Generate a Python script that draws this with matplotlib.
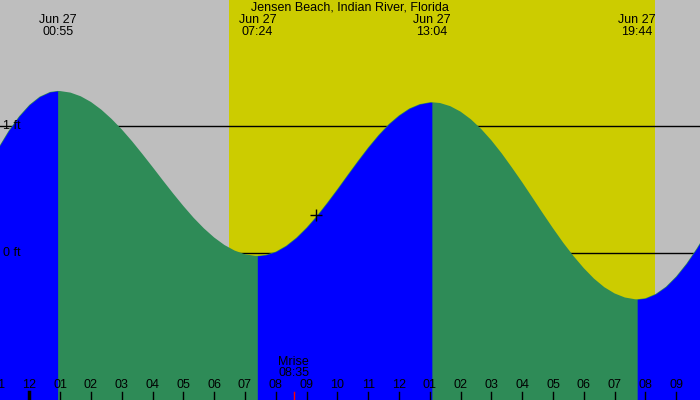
import matplotlib.pyplot as plt

plt.rcParams['font.family'] = ['Liberation Sans', 'DejaVu Sans']

STATION = "Jensen Beach, Indian River, Florida"
DATE = "Jun 27"

# tide height (ft) every 20 minutes, minutes from midnight Jun 27
minutes = [-60, -40, -20, 0, 20, 40, 60, 80, 100, 120, 140, 160, 180, 200,
           220, 240, 260, 280, 300, 320, 340, 360, 380, 400, 420, 440, 460,
           480, 500, 520, 540, 560, 580, 600, 620, 640, 660, 680, 700, 720,
           740, 760, 780, 800, 820, 840, 860, 880, 900, 920, 940, 960, 980,
           1000, 1020, 1040, 1060, 1080, 1100, 1120, 1140, 1160, 1180, 1200,
           1220, 1240, 1260, 1280, 1300, 1320]
heights = [0.834, 0.967, 1.079, 1.169, 1.233, 1.270, 1.277, 1.265, 1.236,
           1.191, 1.131, 1.058, 0.975, 0.882, 0.782, 0.679, 0.574, 0.471,
           0.372, 0.279, 0.196, 0.124, 0.065, 0.021, -0.008, -0.020, -0.013,
           0.013, 0.059, 0.123, 0.203, 0.295, 0.398, 0.506, 0.618, 0.728,
           0.834, 0.931, 1.017, 1.086, 1.140, 1.174, 1.189, 1.183, 1.158,
           1.115, 1.055, 0.979, 0.889, 0.787, 0.675, 0.559, 0.438, 0.316,
           0.197, 0.083, -0.022, -0.117, -0.200, -0.267, -0.316, -0.348,
           -0.362, -0.354, -0.320, -0.263, -0.182, -0.081, 0.038, 0.171]

# high / low tides
ext_minutes = [55, 444, 784, 1184]
ext_heights = [1.278, -0.02, 1.189, -0.362]
ext_labels = ["00:55", "07:24", "13:04", "19:44"]

sunrise = 6.48
sunset = 20.32
moonrise = 8.583
moonrise_label = "08:35"
now_hour = 9.305
now_height = 0.30

tick_hours = list(range(-1, 22))
tick_labels = ["11", "12", "01", "02", "03", "04", "05", "06", "07", "08",
               "09", "10", "11", "12", "01", "02", "03", "04", "05", "06",
               "07", "08", "09"]
ref_levels = [0, 1]

GRAY = '#bebebe'
YELLOW = '#cccc00'
RISING = '#0000ff'
FALLING = '#2e8b57'

hours = [m / 60 for m in minutes]
ext_hours = [m / 60 for m in ext_minutes]

fig = plt.figure(figsize=(7, 4), dpi=100, facecolor=GRAY)
ax = fig.add_axes([0, 0, 1, 1])
ax.set_xlim(-0.9545, 21.773)
ax.set_ylim(-1.155, 1.994)
ax.set_axis_off()
xt = ax.get_xaxis_transform()
bottom = -1.155

ax.axvspan(sunrise, sunset, color=YELLOW, lw=0, zorder=0)
for lev in ref_levels:
    ax.axhline(lev, color='black', lw=1, zorder=1)
    ax.text(-0.87, lev, f"{lev} ft", ha='left', va='center', fontsize=9, zorder=6)

# merge extremes into the series so colours switch exactly at high/low tide
pts = sorted(zip(hours + ext_hours, heights + ext_heights))
t_all = [p[0] for p in pts]
h_all = [p[1] for p in pts]

ax.fill_between(t_all, h_all, bottom, color=FALLING, lw=0, zorder=2)
bounds = [hours[0]] + ext_hours + [hours[-1]]
for a, b in zip(bounds[:-1], bounds[1:]):
    seg = [(t, h) for t, h in pts if a <= t <= b]
    ts = [s[0] for s in seg]
    hs = [s[1] for s in seg]
    if hs[-1] > hs[0]:
        ax.fill_between(ts, hs, bottom, color=RISING, lw=0, zorder=3)

ax.plot(now_hour, now_height, marker='+', color='black', ms=8, mew=1, zorder=4)

# hour ticks along the bottom
for h, lbl in zip(tick_hours, tick_labels):
    ax.axvline(h, ymin=0, ymax=0.02, color='black',
               lw=2.5 if h % 24 == 0 else 1, zorder=5)
    ax.text(h, 0.0375, lbl, transform=xt, ha='center', va='center',
            fontsize=9, zorder=5)
ax.axvline(moonrise, ymin=0, ymax=0.02, color='red', lw=1, zorder=5)
ax.text(moonrise, 0.0957, "Mrise", transform=xt, ha='center', va='center',
        fontsize=9, zorder=5)
ax.text(moonrise, 0.0667, moonrise_label, transform=xt, ha='center',
        va='center', fontsize=9, zorder=5)

for h, lbl in zip(ext_hours, ext_labels):
    ax.text(h, 0.95, DATE, transform=xt, ha='center', va='center', fontsize=9)
    ax.text(h, 0.92, lbl, transform=xt, ha='center', va='center', fontsize=9)

ax.text(0.5, 0.981, STATION, transform=ax.transAxes, ha='center',
        va='center', fontsize=9)

fig.savefig('out.png', dpi=100, facecolor=GRAY)
